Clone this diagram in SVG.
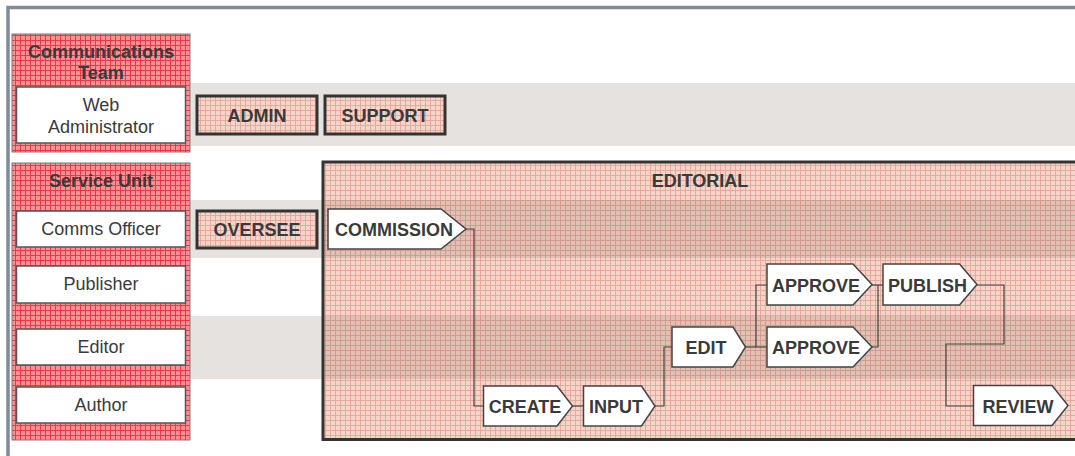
<svg xmlns="http://www.w3.org/2000/svg" width="1075" height="456" viewBox="0 0 1075 456">
<defs>
<pattern id="redgrid" patternUnits="userSpaceOnUse" width="5" height="5">
<rect width="5" height="5" fill="#fc9096"/>
<path d="M0 0.5H5M0.5 0V5" stroke="#e63a45" stroke-width="1" fill="none"/>
</pattern>
<pattern id="pinkgrid" patternUnits="userSpaceOnUse" width="5" height="5">
<rect width="5" height="5" fill="#f4d5cb"/>
<path d="M0 0.5H5M0.5 0V5" stroke="#e8a999" stroke-width="1" fill="none"/>
</pattern>
<style>
.lane{fill:url(#redgrid);stroke:#7a7a7a;stroke-width:1}
.role{fill:#fff;stroke:#555;stroke-width:1.5}
.act{fill:url(#pinkgrid);stroke:#333;stroke-width:3}
.task{fill:#fff;stroke:#444;stroke-width:1.5}
.band{fill:#e6e2df}
.bandov{fill:#583e2a;fill-opacity:0.13}
.t{font-family:"Liberation Sans",Arial,sans-serif;font-size:18px;fill:#3a3a3a;text-anchor:middle}
.b{font-weight:bold}
.conn{fill:none;stroke:#444;stroke-width:1.2}
</style>
</defs>
<rect width="1075" height="456" fill="#fff"/>
<g id="frame">
<path d="M8 456V7.5H1075" fill="none" stroke="#7d8b9b" stroke-width="3.5"/>
</g>
<g id="bands">
<rect class="band" x="190" y="83" width="885" height="63"/>
<rect class="band" x="190" y="200" width="134" height="58"/>
<rect class="band" x="190" y="316" width="134" height="63"/>
</g>
<g id="lane-comms">
<rect class="lane" x="12" y="34" width="178" height="118"/>
<text class="t b" x="101" y="58">Communications</text>
<text class="t b" x="101" y="79">Team</text>
</g>
<g id="role-webadmin">
<rect class="role" x="16.5" y="87" width="169" height="56"/>
<text class="t" x="101" y="111">Web</text>
<text class="t" x="101" y="133">Administrator</text>
</g>
<g id="lane-service">
<rect class="lane" x="12" y="163" width="178" height="277"/>
<text class="t b" x="101" y="187">Service Unit</text>
</g>
<g id="role-comms">
<rect class="role" x="16.5" y="211" width="169" height="36"/>
<text class="t" x="101" y="235">Comms Officer</text>
</g>
<g id="role-publisher">
<rect class="role" x="16.5" y="266" width="169" height="37"/>
<text class="t" x="101" y="290">Publisher</text>
</g>
<g id="role-editor">
<rect class="role" x="16.5" y="329" width="169" height="36"/>
<text class="t" x="101" y="353">Editor</text>
</g>
<g id="role-author">
<rect class="role" x="16.5" y="387" width="169" height="36"/>
<text class="t" x="101" y="411">Author</text>
</g>
<g id="act-admin">
<rect class="act" x="197" y="96" width="120" height="38"/>
<text class="t b" x="257" y="122">ADMIN</text>
</g>
<g id="act-support">
<rect class="act" x="325" y="96" width="120" height="38"/>
<text class="t b" x="385" y="122">SUPPORT</text>
</g>
<g id="act-oversee">
<rect class="act" x="197" y="211" width="120" height="37"/>
<text class="t b" x="257" y="236">OVERSEE</text>
</g>
<g id="editorial">
<rect class="act" x="323" y="162" width="770" height="277.5"/>
<text class="t b" x="700" y="187">EDITORIAL</text>
</g>
<g id="bands-overlay">
<rect class="bandov" x="324.5" y="200" width="751" height="58"/>
<rect class="bandov" x="324.5" y="316" width="751" height="63"/>
</g>
<g id="connectors">
<path class="conn" d="M466 229H474V406H483.5"/>
<path class="conn" d="M572.5 406H583.5"/>
<path class="conn" d="M655 406H664V347H672"/>
<path class="conn" d="M745 347H767"/>
<path class="conn" d="M756 347V285H767"/>
<path class="conn" d="M872 285H883"/>
<path class="conn" d="M872 347H878V285"/>
<path class="conn" d="M977 285H1004V344H946V406H974"/>
</g>
<g id="task-commission">
<path class="task" d="M328 209H441L466 229L441 249H328Z"/>
<text class="t b" x="394" y="236">COMMISSION</text>
</g>
<g id="task-create">
<path class="task" d="M483.5 386H557L572.5 406L557 426H483.5Z"/>
<text class="t b" x="525" y="413">CREATE</text>
</g>
<g id="task-input">
<path class="task" d="M583.5 386H641.5L655 406L641.5 426H583.5Z"/>
<text class="t b" x="616" y="413">INPUT</text>
</g>
<g id="task-edit">
<path class="task" d="M672 327H733L745.5 347L733 367H672Z"/>
<text class="t b" x="706" y="354">EDIT</text>
</g>
<g id="task-approve-1">
<path class="task" d="M767 264H853L872 284.5L853 305H767Z"/>
<text class="t b" x="816" y="291.5">APPROVE</text>
</g>
<g id="task-approve-2">
<path class="task" d="M767 327H853L872 347L853 367H767Z"/>
<text class="t b" x="816" y="354">APPROVE</text>
</g>
<g id="task-publish">
<path class="task" d="M883 264H959.5L977 284.5L959.5 305H883Z"/>
<text class="t b" x="927.5" y="291.5">PUBLISH</text>
</g>
<g id="task-review">
<path class="task" d="M973.5 385.5H1052L1068 405.5L1052 425.5H973.5Z"/>
<text class="t b" x="1018" y="412.5">REVIEW</text>
</g>
</svg>
